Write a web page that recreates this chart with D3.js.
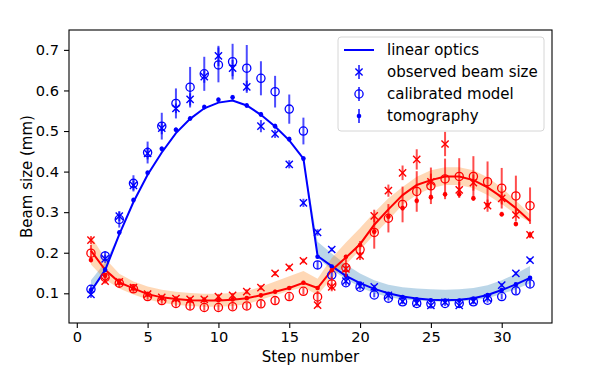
<!DOCTYPE html>
<html>
<head>
<meta charset="utf-8">
<script src="https://cdn.jsdelivr.net/npm/d3@7/dist/d3.min.js"></script>
<style>
body { margin: 0; background: #fff; }
svg { display: block; font-family: "DejaVu Sans", sans-serif; }
</style>
</head>
<body>
<svg id="canvas" width="598" height="373"></svg>
<script>

const steps = [1, 2, 3, 4, 5, 6, 7, 8, 9, 10, 11, 12, 13, 14, 15, 16,
               17, 18, 19, 20, 21, 22, 23, 24, 25, 26, 27, 28, 29, 30, 31, 32];

const xTicks = [0, 5, 10, 15, 20, 25, 30];
const yTicks = [0.1, 0.2, 0.3, 0.4, 0.5, 0.6, 0.7];

const legendLabels = ['linear optics', 'observed beam size', 'calibrated model', 'tomography'];

// blue beam
const blueLine = [0.105, 0.157, 0.245, 0.325, 0.392, 0.447, 0.495, 0.530, 0.556, 0.570, 0.575, 0.563, 0.540, 0.511, 0.477, 0.432,
                  0.192, 0.167, 0.143, 0.125, 0.111, 0.100, 0.092, 0.087, 0.084, 0.083, 0.084, 0.088, 0.096, 0.108, 0.122, 0.138];
const blueBand = [0.118, 0.165, 0.245, 0.325, 0.392, 0.447, 0.495, 0.530, 0.556, 0.570, 0.575, 0.563, 0.540, 0.511, 0.477, 0.432,
                  0.207, 0.178, 0.153, 0.132, 0.116, 0.106, 0.100, 0.097, 0.095, 0.094, 0.095, 0.098, 0.104, 0.115, 0.129, 0.146];
const blueBandHalf = [0.014, 0.011, 0.001, 0.001, 0.001, 0.001, 0.001, 0.001, 0.001, 0.001, 0.001, 0.001, 0.001, 0.001, 0.001, 0.001,
                      0.020, 0.020, 0.018, 0.017, 0.016, 0.015, 0.015, 0.015, 0.015, 0.015, 0.015, 0.015, 0.016, 0.017, 0.019, 0.021];
const blueObs = [0.097, 0.185, 0.290, 0.366, 0.445, 0.507, 0.556, 0.578, 0.634, 0.685, 0.655, 0.609, 0.512, 0.493, 0.418, 0.323,
                 0.250, 0.208, 0.130, 0.118, 0.116, 0.095, 0.080, 0.076, 0.070, 0.078, 0.070, 0.080, 0.088, 0.120, 0.149, 0.182];
const blueObsErr = [0.008, 0.010, 0.012, 0.012, 0.015, 0.015, 0.012, 0.015, 0.015, 0.025, 0.020, 0.015, 0.015, 0.010, 0.010, 0.010,
                    0.008, 0.005, 0.005, 0.005, 0.005, 0.005, 0.005, 0.005, 0.005, 0.005, 0.005, 0.005, 0.005, 0.005, 0.005, 0.005];
const blueCal = [0.110, 0.192, 0.282, 0.371, 0.447, 0.512, 0.568, 0.608, 0.641, 0.663, 0.671, 0.655, 0.630, 0.597, 0.554, 0.500,
                 0.170, 0.145, 0.126, 0.115, 0.096, 0.088, 0.079, 0.075, 0.074, 0.075, 0.075, 0.079, 0.083, 0.092, 0.106, 0.123];
const blueCalErr = [0.010, 0.012, 0.020, 0.020, 0.027, 0.033, 0.037, 0.050, 0.042, 0.043, 0.044, 0.057, 0.042, 0.039, 0.036, 0.033,
                    0.010, 0.008, 0.007, 0.006, 0.006, 0.006, 0.006, 0.006, 0.006, 0.006, 0.006, 0.006, 0.006, 0.007, 0.008, 0.009];
const blueTomo = [0.108, 0.158, 0.250, 0.330, 0.397, 0.456, 0.503, 0.531, 0.559, 0.577, 0.583, 0.563, 0.541, 0.512, 0.480, 0.432,
                  0.190, 0.166, 0.143, 0.124, 0.110, 0.099, 0.091, 0.085, 0.083, 0.082, 0.082, 0.087, 0.096, 0.108, 0.122, 0.138];
const blueTomoErr = [0.006, 0.006, 0.006, 0.006, 0.006, 0.006, 0.006, 0.006, 0.006, 0.006, 0.006, 0.006, 0.006, 0.006, 0.006, 0.006,
                     0.004, 0.004, 0.004, 0.004, 0.004, 0.004, 0.004, 0.004, 0.004, 0.004, 0.004, 0.004, 0.004, 0.004, 0.004, 0.004];

// red beam
const redLine = [0.205, 0.158, 0.127, 0.112, 0.098, 0.090, 0.086, 0.083, 0.082, 0.082, 0.084, 0.088, 0.095, 0.104, 0.113, 0.126,
                 0.113, 0.157, 0.188, 0.221, 0.269, 0.307, 0.342, 0.367, 0.379, 0.388, 0.388, 0.379, 0.361, 0.337, 0.310, 0.278];
const redBand = [0.206, 0.160, 0.130, 0.113, 0.101, 0.093, 0.088, 0.085, 0.083, 0.083, 0.085, 0.089, 0.100, 0.112, 0.124, 0.135,
                 0.116, 0.162, 0.198, 0.234, 0.272, 0.307, 0.340, 0.365, 0.381, 0.389, 0.389, 0.381, 0.364, 0.340, 0.312, 0.285];
const redBandHalf = [0.035, 0.026, 0.018, 0.016, 0.016, 0.016, 0.016, 0.016, 0.016, 0.016, 0.016, 0.016, 0.016, 0.017, 0.018, 0.020,
                     0.020, 0.025, 0.027, 0.027, 0.027, 0.027, 0.022, 0.022, 0.022, 0.022, 0.022, 0.022, 0.022, 0.020, 0.017, 0.010];
const redObs = [0.231, 0.130, 0.128, 0.114, 0.098, 0.090, 0.087, 0.085, 0.085, 0.092, 0.095, 0.104, 0.114, 0.149, 0.164, 0.180,
                0.071, 0.116, 0.160, 0.192, 0.291, 0.353, 0.397, 0.430, 0.375, 0.468, 0.355, 0.373, 0.316, 0.334, 0.293, 0.244];
const redObsErr = [0.010, 0.006, 0.006, 0.006, 0.006, 0.006, 0.006, 0.006, 0.006, 0.006, 0.006, 0.006, 0.006, 0.006, 0.006, 0.006,
                   0.006, 0.008, 0.008, 0.010, 0.015, 0.015, 0.018, 0.025, 0.020, 0.030, 0.020, 0.020, 0.015, 0.015, 0.015, 0.008];
const redCal = [0.199, 0.139, 0.125, 0.111, 0.092, 0.082, 0.075, 0.069, 0.065, 0.065, 0.067, 0.069, 0.074, 0.082, 0.092, 0.105,
                0.091, 0.123, 0.163, 0.208, 0.250, 0.285, 0.319, 0.351, 0.365, 0.382, 0.388, 0.388, 0.375, 0.359, 0.340, 0.316];
const redCalErr = [0.020, 0.010, 0.010, 0.010, 0.008, 0.008, 0.008, 0.008, 0.008, 0.008, 0.008, 0.008, 0.008, 0.008, 0.008, 0.008,
                   0.015, 0.018, 0.022, 0.021, 0.040, 0.035, 0.044, 0.050, 0.045, 0.050, 0.045, 0.050, 0.050, 0.050, 0.050, 0.045];
const redTomo = [0.182, 0.143, 0.126, 0.112, 0.097, 0.088, 0.085, 0.083, 0.083, 0.083, 0.085, 0.088, 0.095, 0.104, 0.113, 0.126,
                 0.113, 0.157, 0.190, 0.219, 0.252, 0.289, 0.310, 0.328, 0.337, 0.344, 0.344, 0.334, 0.318, 0.295, 0.271, 0.244];
const redTomoErr = [0.006, 0.005, 0.005, 0.005, 0.005, 0.005, 0.005, 0.005, 0.005, 0.005, 0.005, 0.005, 0.005, 0.005, 0.005, 0.005,
                    0.005, 0.005, 0.005, 0.005, 0.005, 0.005, 0.006, 0.006, 0.006, 0.006, 0.006, 0.006, 0.006, 0.006, 0.006, 0.006];

const plotLeft = 69, plotRight = 552, plotTop = 30, plotBottom = 323;

let canvas = d3.select('#canvas')

let x = d3.scaleLinear().domain([-0.55, 33.55]).range([plotLeft, plotRight])
let y = d3.scaleLinear().domain([0.0268, 0.749]).range([plotBottom, plotTop])

const drawBand = (center, half, color) => {
    let area = d3.area()
        .x((d, i) => x(steps[i]))
        .y0((d, i) => y(center[i] - half[i]))
        .y1((d, i) => y(center[i] + half[i]))
    canvas.append('path')
          .attr('d', area(center))
          .attr('fill', color)
          .attr('fill-opacity', 0.3)
}

const drawLine = (values, color) => {
    let line = d3.line().x((d, i) => x(steps[i])).y((d) => y(d))
    canvas.append('path')
          .attr('d', line(values))
          .attr('fill', 'none')
          .attr('stroke', color)
          .attr('stroke-width', 2)
}

const drawMarker = (g, cx, cy, kind, color) => {
    if (kind === 'x') {
        let s = 3.6
        g.append('path')
         .attr('d', `M${cx - s},${cy - s}L${cx + s},${cy + s}M${cx - s},${cy + s}L${cx + s},${cy - s}`)
         .attr('stroke', color)
         .attr('stroke-width', 1.4)
    } else if (kind === 'o') {
        g.append('circle')
         .attr('cx', cx).attr('cy', cy).attr('r', 4.1)
         .attr('fill', 'none')
         .attr('stroke', color)
         .attr('stroke-width', 1.3)
    } else {
        g.append('circle')
         .attr('cx', cx).attr('cy', cy).attr('r', 2.3)
         .attr('fill', color)
    }
}

const drawErrorbars = (values, errs, kind, color) => {
    let g = canvas.append('g')
    values.forEach((v, i) => {
        let cx = x(steps[i])
        g.append('line')
         .attr('x1', cx).attr('x2', cx)
         .attr('y1', y(v - errs[i])).attr('y2', y(v + errs[i]))
         .attr('stroke', color)
         .attr('stroke-opacity', 0.7)
         .attr('stroke-width', 2)
        drawMarker(g, cx, y(v), kind, color)
    })
}

drawBand(blueBand, blueBandHalf, '#1f77b4')
drawBand(redBand, redBandHalf, '#ff7f0e')

drawLine(blueLine, '#0000ff')
drawLine(redLine, '#ff0000')

drawErrorbars(blueObs, blueObsErr, 'x', '#0000ff')
drawErrorbars(blueCal, blueCalErr, 'o', '#0000ff')
drawErrorbars(blueTomo, blueTomoErr, '.', '#0000ff')
drawErrorbars(redObs, redObsErr, 'x', '#ff0000')
drawErrorbars(redCal, redCalErr, 'o', '#ff0000')
drawErrorbars(redTomo, redTomoErr, '.', '#ff0000')

// axes
canvas.append('g')
    .attr('transform', `translate(0,${plotBottom})`)
    .call(d3.axisBottom(x).tickValues(xTicks).tickSize(5).tickPadding(4).tickSizeOuter(0))
canvas.append('g')
    .attr('transform', `translate(${plotLeft},0)`)
    .call(d3.axisLeft(y).tickValues(yTicks).tickFormat(d3.format('.1f')).tickSize(5).tickPadding(5).tickSizeOuter(0))

canvas.selectAll('.domain').remove()
canvas.selectAll('.tick line').attr('stroke', '#000').attr('stroke-width', 1.1)
canvas.selectAll('.tick text')
      .attr('fill', '#000')
      .style('font-size', '14.6px')
      .style('font-family', '"DejaVu Sans", sans-serif')

canvas.append('rect')
      .attr('x', plotLeft).attr('y', plotTop)
      .attr('width', plotRight - plotLeft).attr('height', plotBottom - plotTop)
      .attr('fill', 'none')
      .attr('stroke', '#000')
      .attr('stroke-width', 1.1)

canvas.append('text')
      .attr('x', (plotLeft + plotRight) / 2)
      .attr('y', 362)
      .attr('text-anchor', 'middle')
      .style('font-size', '15px')
      .text('Step number')

canvas.append('text')
      .attr('transform', `translate(32,${(plotTop + plotBottom) / 2}) rotate(-90)`)
      .attr('text-anchor', 'middle')
      .style('font-size', '15px')
      .text('Beam size (mm)')

// legend
let legend = canvas.append('g')
legend.append('rect')
      .attr('x', 338).attr('y', 37)
      .attr('width', 206).attr('height', 94)
      .attr('rx', 3)
      .attr('fill', '#fff')
      .attr('fill-opacity', 0.8)
      .attr('stroke', '#d6d6d6')

const legendKinds = ['line', 'x', 'o', '.']
legendLabels.forEach((label, i) => {
    let ly = 50 + i * 22
    if (legendKinds[i] === 'line') {
        legend.append('line')
              .attr('x1', 344).attr('x2', 374)
              .attr('y1', ly).attr('y2', ly)
              .attr('stroke', '#0000ff')
              .attr('stroke-width', 2)
    } else {
        legend.append('line')
              .attr('x1', 359).attr('x2', 359)
              .attr('y1', ly - 7).attr('y2', ly + 7)
              .attr('stroke', '#0000ff')
              .attr('stroke-opacity', 0.7)
              .attr('stroke-width', 2)
        drawMarker(legend, 359, ly, legendKinds[i], '#0000ff')
    }
    legend.append('text')
          .attr('x', 387)
          .attr('y', ly)
          .attr('dy', '0.35em')
          .style('font-size', '15px')
          .text(label)
})

</script>
</body>
</html>
